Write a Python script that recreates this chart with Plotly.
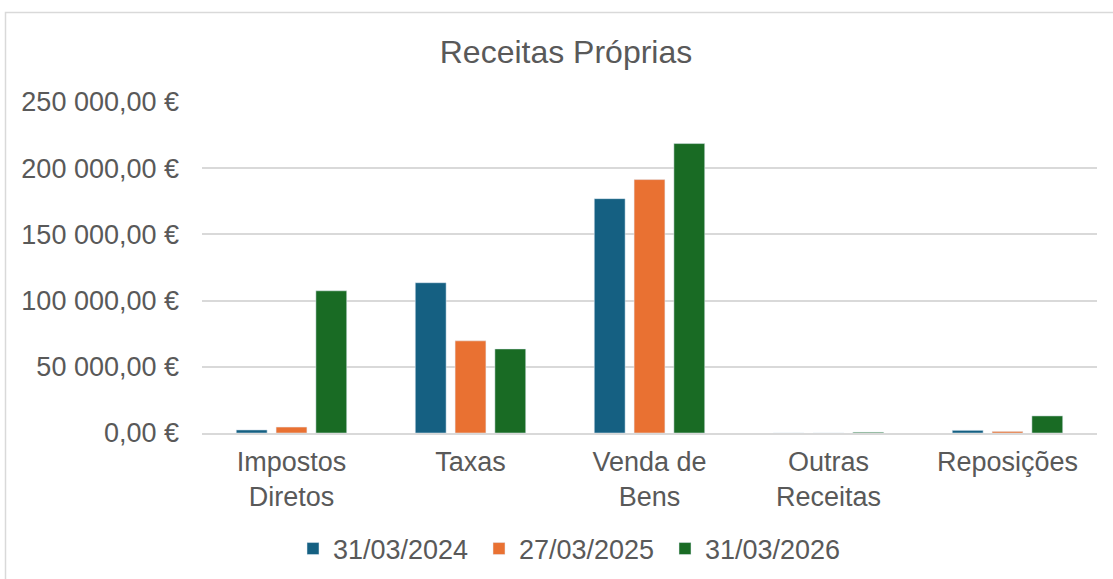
import plotly.graph_objects as go

categories = ['Impostos<br>Diretos', 'Taxas', 'Venda de<br>Bens', 'Outras<br>Receitas', 'Reposições']
v_2024 = [2300, 113500, 177000, 0, 2000]
v_2025 = [4500, 69600, 191400, 0, 1200]
v_2026 = [107400, 63500, 218600, 600, 12900]
tick_vals = [0, 50000, 100000, 150000, 200000, 250000]
tick_text = ['0,00 €', '50 000,00 €', '100 000,00 €', '150 000,00 €', '200 000,00 €', '250 000,00 €']

W, H = 1113, 579
ml, mr, mt, mb = 202, 16, 102, 146
pw, ph = W - ml - mr, H - mt - mb

txt = '#595959'
fnt = dict(family='Liberation Sans, Arial, sans-serif', size=27, color=txt)

fig = go.Figure()
fig.add_trace(go.Bar(x=categories, y=v_2024, name='31/03/2024', marker_color='#156082'))
fig.add_trace(go.Bar(x=categories, y=v_2025, name='27/03/2025', marker_color='#E97132'))
fig.add_trace(go.Bar(x=categories, y=v_2026, name='31/03/2026', marker_color='#196B24'))

# chart border (open at right/bottom like the screenshot)
fig.add_shape(type='rect', xref='paper', yref='paper',
              x0=(5.5 - ml) / pw, x1=(W + 10 - ml) / pw,
              y0=(H - mb - (H + 10)) / ph, y1=(H - mb - 12.5) / ph,
              line=dict(color='#D9D9D9', width=1.5), layer='below')

fig.update_layout(
    width=W, height=H,
    margin=dict(l=ml, r=mr, t=mt, b=mb, autoexpand=False),
    paper_bgcolor='white', plot_bgcolor='white',
    font=fnt,
    barmode='group', bargap=0.333, bargroupgap=0.225,
    title=dict(text='Receitas Próprias', font=dict(size=32, color=txt),
               xref='container', x=566 / W, xanchor='center',
               yref='container', y=1 - 52 / H, yanchor='middle'),
    showlegend=True,
    legend=dict(orientation='h', x=(572 - ml) / pw, xanchor='center',
                y=(433 - 549) / ph, yanchor='middle',
                font=fnt, entrywidth=141, traceorder='normal'),
    xaxis=dict(showline=True, linecolor='#D9D9D9', linewidth=1.5,
               tickfont=fnt, ticks='', ticklabelstandoff=4),
    yaxis=dict(range=[0, 250000], tickvals=tick_vals, ticktext=tick_text,
               gridcolor='#D9D9D9', gridwidth=1.5, zeroline=False,
               showline=False, tickfont=fnt, ticklabelstandoff=22),
)

fig.write_html('out.html', config={'displayModeBar': False},
               post_script="document.body.style.margin='0';")
